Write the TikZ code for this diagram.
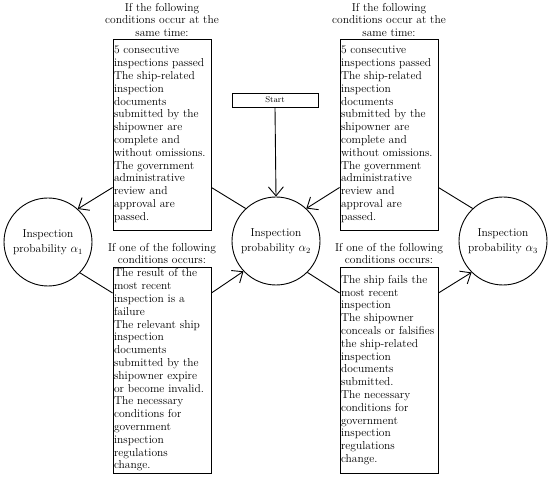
\documentclass[tikz,border=0pt]{standalone}
\usetikzlibrary{arrows.meta}
\hyphenpenalty=10000
\exhyphenpenalty=10000
\begin{document}
\begin{tikzpicture}[x=1pt,y=1pt,
  txt/.style={font=\fontsize{11.5}{12.8}\selectfont},
  condbox/.style={txt,draw,line width=0.9pt,align=left,minimum width=98pt,text width=96pt,inner xsep=1pt,inner ysep=0pt},
  state/.style={draw,circle,line width=0.9pt,minimum size=88pt,align=center,inner sep=0pt,font=\fontsize{11.5}{15}\selectfont},
  title/.style={txt,align=center,inner sep=0pt},
  conn/.style={line width=0.9pt},
  arr/.style={line width=0.9pt,-{Straight Barb[length=9pt,width=15pt,line width=0.9pt]}}
]
\useasboundingbox (0,0) rectangle (550,479);

% circles
\node[state] (c1) at (48,237) {Inspection\\probability $\alpha_1$};
\node[state] (c2) at (276,238) {Inspection\\probability $\alpha_2$};
\node[state] (c3) at (503,238) {Inspection\\probability $\alpha_3$};

% start
\node[draw,line width=0.9pt,minimum width=86pt,minimum height=14pt,inner sep=0pt,font=\fontsize{8.5}{10}\selectfont] (start) at (275,379) {Start};

% top boxes
\node[condbox,minimum height=191pt] (tl) at (162,344.5) {5 consecutive\\inspections passed\\The ship-related\\inspection\\documents\\submitted by the\\shipowner are\\complete and\\without omissions.\\The government\\administrative\\review and\\approval are\\passed.};
\node[condbox,minimum height=191pt] (tr) at (389,344.5) {5 consecutive\\inspections passed\\The ship-related\\inspection\\documents\\submitted by the\\shipowner are\\complete and\\without omissions.\\The government\\administrative\\review and\\approval are\\passed.};

\node[title] (tlt) at (162,459) {If the following\\conditions occur at the\\same time:};
\node[title] (trt) at (389,459) {If the following\\conditions occur at the\\same time:};

% bottom boxes
\node[condbox,minimum height=206pt] (bl) at (162,109) {The result of the\\most recent\\inspection is a\\failure\\The relevant ship\\inspection\\documents\\submitted by the\\shipowner expire\\or become invalid.\\The necessary\\conditions for\\government\\inspection\\regulations\\change.};
\node[condbox,minimum height=206pt] (br) at (389,109) {The ship fails the\\most recent\\inspection\\The shipowner\\conceals or falsifies\\the ship-related\\inspection\\documents\\submitted.\\The necessary\\conditions for\\government\\inspection\\regulations\\change.};

\node[title] (blt) at (162,225.5) {If one of the following\\conditions occurs:};
\node[title] (brt) at (389,225.5) {If one of the following\\conditions occurs:};

% connectors
\draw[arr] (start.south) -- (c2.north);

\draw[conn] (c2.133) -- ([yshift=-53pt]tl.east);
\draw[arr] ([yshift=-53pt]tl.west) -- (c1.48);

\draw[conn] (c3.133) -- ([yshift=-53pt]tr.east);
\draw[arr] ([yshift=-53pt]tr.west) -- (c2.47);

\draw[conn] (c1.-44) -- ([yshift=77pt]bl.west);
\draw[arr] ([yshift=77pt]bl.east) -- (c2.-137);

\draw[conn] (c2.-45) -- ([yshift=77pt]br.west);
\draw[arr] ([yshift=77pt]br.east) -- (c3.-135);
\end{tikzpicture}
\end{document}
